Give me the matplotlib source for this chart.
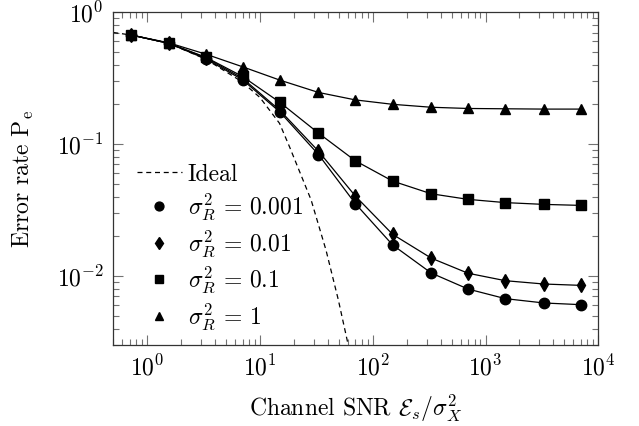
import matplotlib
matplotlib.use("Agg")
from matplotlib import pyplot as plt
from matplotlib.lines import Line2D

# Channel SNR values where the markers sit
snr = [0.72, 1.55, 3.3, 7.0, 15.0, 33.0, 70.0, 150.0, 330.0, 700.0, 1500.0, 3300.0, 7000.0]

# Error rate per receiver noise variance
pe_0001 = [0.67, 0.58, 0.442, 0.307, 0.175, 0.0833, 0.0354, 0.0172, 0.01054, 0.00797, 0.00674, 0.00625, 0.00607]
pe_001 = [0.67, 0.58, 0.45, 0.315, 0.18, 0.0883, 0.0404, 0.0207, 0.01367, 0.0105, 0.00922, 0.0087, 0.0085]
pe_01 = [0.67, 0.58, 0.455, 0.325, 0.207, 0.121, 0.0747, 0.0524, 0.042, 0.0381, 0.036, 0.0349, 0.0343]
pe_1 = [0.67, 0.585, 0.48, 0.385, 0.305, 0.246, 0.216, 0.2, 0.19, 0.186, 0.185, 0.184, 0.184]

# Ideal curve
snr_ideal = [0.5, 0.72, 1.55, 3.3, 6.9, 10.0, 14.9, 18.3, 28.4, 38.5, 49.5, 60.6]
pe_ideal = [0.70, 0.67, 0.58, 0.44, 0.297, 0.225, 0.1435, 0.095, 0.0377, 0.0157, 0.0066, 0.003]

labels = ['Ideal', r'$\sigma_R^2 \,=\, 0.001$', r'$\sigma_R^2 \,=\, 0.01$',
          r'$\sigma_R^2 \,=\, 0.1$', r'$\sigma_R^2 \,=\, 1$']

plt.rcParams['font.family'] = 'serif'
plt.rcParams['font.serif'] = ['cmr10']
plt.rcParams['mathtext.fontset'] = 'cm'
plt.rcParams['axes.formatter.use_mathtext'] = True
plt.rcParams['font.size'] = 17

fig = plt.figure(figsize=(6.39, 4.26), dpi=100)
ax = fig.add_axes([0.1773, 0.19, 0.759, 0.7817])

lw = 0.9
series = [(pe_0001, 'o', 7.5), (pe_001, 'd', 7.5), (pe_01, 's', 7.5), (pe_1, '^', 7)]
ax.plot(snr_ideal, pe_ideal, color='k', lw=lw, dashes=(4, 3))
handles = [Line2D([], [], color='k', lw=lw, dashes=(4, 3))]
for pe, m, ms in series:
    ax.plot(snr, pe, '-', marker=m, color='k', lw=lw, ms=ms)
    handles.append(Line2D([], [], ls='none', marker=m, color='k', ms=ms * 0.85))

ax.set_xscale('log')
ax.set_yscale('log')
ax.set_xlim(0.5, 1e4)
ax.set_ylim(3e-3, 1)

ax.tick_params(which='both', direction='in', top=True, right=True, color='0.45')
ax.tick_params(which='major', length=7, width=0.8, pad=7)
ax.tick_params(which='minor', length=4.5, width=0.8)
for s in ax.spines.values():
    s.set_color('0.2')
    s.set_linewidth(0.9)

ax.set_xlabel(r'Channel SNR $\mathcal{E}_s/\sigma_X^2$', labelpad=9)
ax.set_ylabel(r'Error rate $\mathrm{P}_\mathrm{e}$', labelpad=15)

ax.legend(handles, labels, loc='upper left', bbox_to_anchor=(0.049, 0.545), frameon=False,
          borderpad=0, borderaxespad=0, handlelength=1.9, handletextpad=0.25,
          labelspacing=0.26, fontsize=17)

plt.savefig('out.png', dpi=100)
